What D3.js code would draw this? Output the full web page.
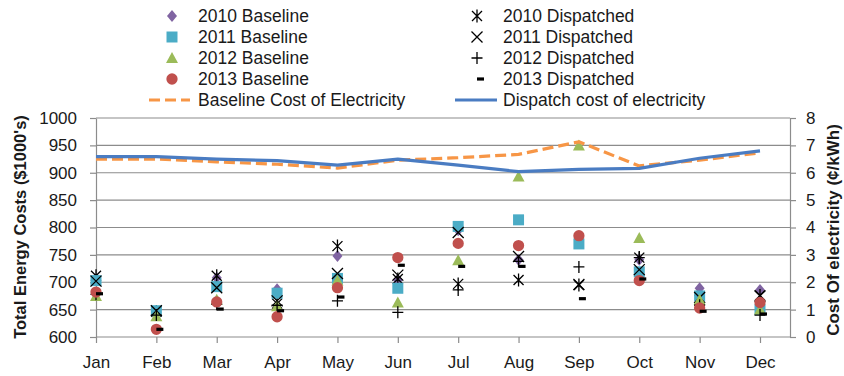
<!DOCTYPE html>
<html>
<head>
<meta charset="utf-8">
<script src="https://cdn.jsdelivr.net/npm/d3@7"></script>
<style>
  body { margin: 0; background: #fff; }
  svg { display: block; }
  text { font-family: "Liberation Sans", Arial, sans-serif; fill: #1a1a1a; }
</style>
</head>
<body>
<svg id="chart" width="844" height="376"></svg>
<script>
// ---- data ----
const months = ["Jan","Feb","Mar","Apr","May","Jun","Jul","Aug","Sep","Oct","Nov","Dec"];

// monthly energy cost, $1000's
const baseline2010   = [705, 645, 708, 687, 748, 704, 795, 741, 778, 741, 689, 686];
const dispatched2010 = [712, 646, 712, 661, 766, 706, 697, 704, 695, 745, 668, 676];
const baseline2011   = [703, 648, 692, 680, 707, 689, 802, 814, 770, 719, 675, 650];
const dispatched2011 = [702, 648, 690, 666, 716, 713, 791, 747, 696, 723, 672, 675];
const baseline2012   = [675, 638, 668, 656, 703, 663, 740, 893, 950, 781, 668, 650];
const dispatched2012 = [678, 640, 660, 658, 666, 645, 686, 738, 728, 745, 658, 640];
const baseline2013   = [682, 614, 664, 637, 690, 745, 771, 767, 785, 703, 653, 663];
const dispatched2013 = [679, 614, 651, 648, 673, 731, 729, 729, 670, 706, 647, 642];

// cost of electricity, ¢/kWh
const baselineCost = [6.50, 6.50, 6.40, 6.31, 6.17, 6.46, 6.55, 6.67, 7.13, 6.25, 6.46, 6.73];
const dispatchCost = [6.59, 6.59, 6.50, 6.44, 6.28, 6.50, 6.28, 6.04, 6.12, 6.16, 6.53, 6.80];

const leftTicks  = [600, 650, 700, 750, 800, 850, 900, 950, 1000];
const rightTicks = [0, 1, 2, 3, 4, 5, 6, 7, 8];

// ---- marker shapes ----
const shapes = {
  diamond:  "M0,-6L5,0L0,6L-5,0Z",
  square:   "M-5.5,-5.5H5.5V5.5H-5.5Z",
  triangle: "M0,-6L6,5H-6Z",
  circle:   d3.symbol(d3.symbolCircle, 100)(),
  asterisk: "M-5,-5L5,5M-5,5L5,-5M0,-6.5V6.5",
  times:    "M-5.5,-5.5L5.5,5.5M-5.5,5.5L5.5,-5.5",
  plus:     "M-5.5,0H5.5M0,-6V6",
  dash:     "M0,-1.6H7V1.6H0Z"
};

const series = [
  { name: "2010 Baseline",   values: baseline2010,   shape: "diamond",  color: "#8064A2", filled: true },
  { name: "2010 Dispatched", values: dispatched2010, shape: "asterisk", color: "#000",    filled: false },
  { name: "2011 Baseline",   values: baseline2011,   shape: "square",   color: "#4BACC6", filled: true },
  { name: "2011 Dispatched", values: dispatched2011, shape: "times",    color: "#000",    filled: false },
  { name: "2012 Baseline",   values: baseline2012,   shape: "triangle", color: "#9BBB59", filled: true },
  { name: "2012 Dispatched", values: dispatched2012, shape: "plus",     color: "#000",    filled: false },
  { name: "2013 Baseline",   values: baseline2013,   shape: "circle",   color: "#C0504D", filled: true },
  { name: "2013 Dispatched", values: dispatched2013, shape: "dash",     color: "#000",    filled: true }
];

const lines = [
  { name: "Baseline Cost of Electricity", values: baselineCost, color: "#F79646", dash: "11,5" },
  { name: "Dispatch cost of electricity", values: dispatchCost, color: "#4A7CC2", dash: null }
];

// ---- layout ----
const svg = d3.select("#chart");
const plot = { left: 96, right: 790, top: 118, bottom: 337 };
const gridColor = "#8c8c8c";

const x = d3.scalePoint().domain(months).range([plot.left, 760]);
const yL = d3.scaleLinear().domain([600, 1000]).range([plot.bottom, plot.top]);
const yR = d3.scaleLinear().domain([0, 8]).range([plot.bottom, plot.top]);

// horizontal gridlines
svg.append("g").selectAll("line").data(leftTicks.slice(1)).join("line")
  .attr("x1", plot.left).attr("x2", plot.right)
  .attr("y1", d => yL(d)).attr("y2", d => yL(d))
  .attr("stroke", gridColor).attr("stroke-width", 1.2);

// axes
function styleAxis(g) {
  g.selectAll(".domain").attr("stroke", gridColor).attr("stroke-width", 1.2);
  g.selectAll(".tick line").attr("stroke", gridColor).attr("stroke-width", 1.2);
  g.selectAll(".tick text").attr("fill", "#1a1a1a")
    .style("font-family", "'Liberation Sans', Arial, sans-serif").style("font-size", "17px");
}

svg.append("g").attr("transform", `translate(${plot.left},0)`)
  .call(d3.axisLeft(yL).tickValues(leftTicks).tickFormat(d3.format("d"))
    .tickSize(6).tickPadding(13).tickSizeOuter(0))
  .call(styleAxis);

svg.append("g").attr("transform", `translate(${plot.right},0)`)
  .call(d3.axisRight(yR).tickValues(rightTicks).tickFormat(d3.format("d"))
    .tickSize(6).tickPadding(10).tickSizeOuter(0))
  .call(styleAxis);

const xAxis = svg.append("g").attr("transform", `translate(0,${plot.bottom})`)
  .call(d3.axisBottom(x).tickSize(6).tickPadding(13).tickSizeOuter(0))
  .call(styleAxis);
xAxis.select(".domain").attr("d", `M${plot.left},0H${plot.right}`);

// axis titles
svg.append("text")
  .attr("transform", `translate(26,227) rotate(-90)`)
  .attr("text-anchor", "middle")
  .style("font-size", "16.5px").style("font-weight", "bold")
  .text("Total Energy Costs ($1000's)");

svg.append("text")
  .attr("transform", `translate(839,230) rotate(-90)`)
  .attr("text-anchor", "middle")
  .style("font-size", "17px").style("font-weight", "bold")
  .text("Cost Of electricity (¢/kWh)");

// scatter markers
function drawMarker(sel, s) {
  sel.attr("d", shapes[s.shape])
    .attr("fill", s.filled ? s.color : "none")
    .attr("stroke", s.filled ? "none" : s.color)
    .attr("stroke-width", s.filled ? 0 : 1.3);
}

series.forEach(s => {
  svg.append("g").selectAll("path")
    .data(s.values.map((v, i) => ({ m: months[i], v })))
    .join("path")
    .attr("transform", d => `translate(${x(d.m)},${yL(d.v)})`)
    .call(drawMarker, s);
});

// cost lines (secondary axis)
const lineGen = d3.line().x((d, i) => x(months[i])).y(d => yR(d));
lines.forEach(l => {
  svg.append("path")
    .attr("d", lineGen(l.values))
    .attr("fill", "none")
    .attr("stroke", l.color)
    .attr("stroke-width", 3.2)
    .attr("stroke-linejoin", "round")
    .attr("stroke-dasharray", l.dash);
});

// legend
const legendRows = [16, 37, 58, 79];
const colMarker = [172, 477];
const colText = [198, 503];
const legend = svg.append("g").style("font-size", "17.5px");

series.forEach((s, i) => {
  const col = i % 2, row = Math.floor(i / 2);
  const g = legend.append("g");
  g.append("path")
    .attr("transform", `translate(${colMarker[col]},${legendRows[row]})`)
    .call(drawMarker, s);
  g.append("text")
    .attr("x", colText[col]).attr("y", legendRows[row]).attr("dy", "0.36em")
    .text(s.name);
});

const lineRowY = 100;
const lineSample = [[149, 190], [455, 497]];
lines.forEach((l, i) => {
  legend.append("line")
    .attr("x1", lineSample[i][0]).attr("x2", lineSample[i][1])
    .attr("y1", lineRowY).attr("y2", lineRowY)
    .attr("stroke", l.color).attr("stroke-width", 3.2)
    .attr("stroke-dasharray", l.dash);
  legend.append("text")
    .attr("x", colText[i]).attr("y", lineRowY).attr("dy", "0.36em")
    .text(l.name);
});
</script>
</body>
</html>
